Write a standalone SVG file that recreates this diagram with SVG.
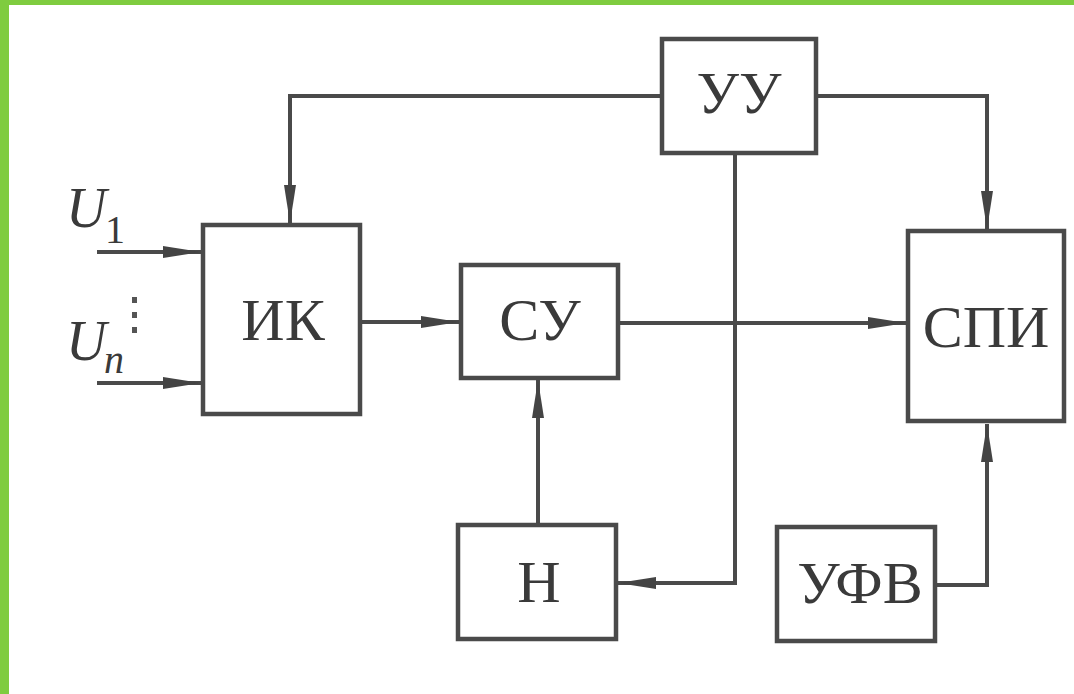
<svg xmlns="http://www.w3.org/2000/svg" width="1074" height="694" viewBox="0 0 1074 694">
<style>
.box{fill:#fff;stroke:#4a4a4a;stroke-width:4.5}
.ln{fill:none;stroke:#4a4a4a;stroke-width:4}
.lbl{font-family:"Liberation Serif","Times New Roman",serif;font-size:60px;fill:#3a3a3a;text-anchor:middle}
.u{font-family:"Liberation Serif","Times New Roman",serif;font-style:italic;font-size:56px;fill:#3a3a3a}
.sub{font-family:"Liberation Serif","Times New Roman",serif;font-size:40px;fill:#3a3a3a}
</style>
<defs>
<marker id="ah" markerUnits="userSpaceOnUse" markerWidth="40" markerHeight="14" refX="38" refY="7" orient="auto">
<path d="M0,1 L38,7 L0,13 z" fill="#444"/>
</marker>
</defs>
<rect x="0" y="0" width="1074" height="694" fill="#fff"/>
<rect x="0" y="0" width="1074" height="5" fill="#7fcc3f"/>
<rect x="0" y="0" width="9" height="694" fill="#7fcc3f"/>
<g id="connectors">
<path class="ln" d="M97,252 L201,252" marker-end="url(#ah)"/>
<path class="ln" d="M97,383 L201,383" marker-end="url(#ah)"/>
<path class="ln" d="M662,96 L290,96 L290,223" marker-end="url(#ah)"/>
<path class="ln" d="M816,96 L987,96 L987,229" marker-end="url(#ah)"/>
<path class="ln" d="M360,322 L459,322" marker-end="url(#ah)"/>
<path class="ln" d="M618,323 L906,323" marker-end="url(#ah)"/>
<path class="ln" d="M735,153 L735,583 L618,583" marker-end="url(#ah)"/>
<path class="ln" d="M538,525 L538,380" marker-end="url(#ah)"/>
<path class="ln" d="M935,585 L987,585 L987,424" marker-end="url(#ah)"/>
</g>
<g id="inputs">
<text class="u" x="66" y="227">U</text>
<text class="sub" x="105" y="243">1</text>
<text class="u" x="66" y="360">U</text>
<text class="sub" x="104" y="373" font-style="italic">n</text>
<rect x="132" y="297" width="5" height="6" fill="#555"/>
<rect x="132" y="312" width="5" height="6" fill="#555"/>
<rect x="132" y="327" width="5" height="6" fill="#555"/>
</g>
<g id="IK"><rect class="box" x="203" y="225" width="157" height="189"/><text class="lbl" x="283" y="340">ИК</text></g>
<g id="UU"><rect class="box" x="662" y="39" width="154" height="114"/><text class="lbl" x="739" y="113">УУ</text></g>
<g id="SU"><rect class="box" x="461" y="265" width="157" height="113"/><text class="lbl" x="540" y="340">СУ</text></g>
<g id="SPI"><rect class="box" x="908" y="231" width="156" height="190"/><text class="lbl" x="986" y="347">СПИ</text></g>
<g id="N"><rect class="box" x="458" y="525" width="158" height="114"/><text class="lbl" x="539" y="602">Н</text></g>
<g id="UFV"><rect class="box" x="777" y="527" width="158" height="114"/><text class="lbl" x="860" y="603">УФВ</text></g>
</svg>
